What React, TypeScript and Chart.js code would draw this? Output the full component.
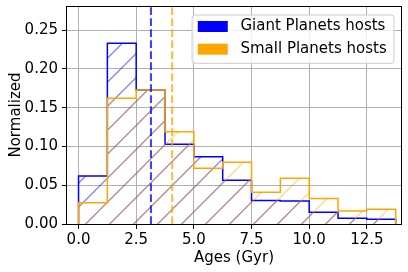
import React, { useEffect, useRef } from "react";
import { Chart, registerables } from "chart.js";

Chart.register(...registerables);

// ---- data ----
const binEdges = [0, 1.25, 2.5, 3.75, 5.0, 6.25, 7.5, 8.75, 10.0, 11.25, 12.5, 13.75];
const giantValues = [0.0619, 0.2329, 0.1727, 0.1027, 0.0867, 0.0565, 0.0302, 0.0298, 0.0153, 0.0074, 0.0061];
const smallValues = [0.0275, 0.162, 0.1727, 0.1189, 0.0718, 0.0795, 0.0408, 0.0589, 0.0329, 0.0166, 0.0191];
const giantMeanAge = 3.14;
const smallMeanAge = 4.06;
const seriesLabels = ["Giant Planets hosts", "Small Planets hosts"];
const xTicks = [0, 2.5, 5, 7.5, 10, 12.5];
const yTicks = [0, 0.05, 0.1, 0.15, 0.2, 0.25];
const xRange = [-0.5, 13.98];
const yRange = [0, 0.281];
const xTitle = "Ages (Gyr)";
const yTitle = "Normalized";

const FONT = "'DejaVu Sans', sans-serif";

function stepPoints(vals: number[]) {
  const pts = [{ x: binEdges[0], y: 0 }];
  vals.forEach((v, i) => pts.push({ x: binEdges[i], y: v }));
  pts.push({ x: binEdges[binEdges.length - 1], y: 0 });
  return pts;
}

function makeHatch(color: string): CanvasPattern | string {
  const c = document.createElement("canvas");
  c.width = 24;
  c.height = 24;
  const g = c.getContext("2d");
  if (!g) return "transparent";
  g.strokeStyle = color;
  g.lineWidth = 1.3;
  for (let k = -2; k <= 2; k++) {
    const cc = 21.7 + 24 * k;
    g.beginPath();
    g.moveTo(cc + 10, -10);
    g.lineTo(-10, cc + 10);
    g.stroke();
  }
  return g.createPattern(c, "repeat") || "transparent";
}

const frameLegendPlugin = {
  id: "frameLegend",
  afterDraw(chart: any) {
    const { ctx, chartArea: a } = chart;
    ctx.save();
    // frame (spines)
    ctx.strokeStyle = "#000";
    ctx.lineWidth = 1;
    ctx.strokeRect(a.left - 0.5, a.top + 0.5, a.right - a.left + 1, a.bottom - a.top);
    // legend
    ctx.font = "15px " + FONT;
    const textW = Math.max(...seriesLabels.map((t) => ctx.measureText(t).width));
    const padL = 5.7, handleW = 30, handleH = 11, gap = 12.7, padR = 7.3;
    const w = padL + handleW + gap + textW + padR;
    const h = 48.3;
    const right = a.right - 7;
    const left = right - w;
    const top = a.top + 9;
    const r = 3;
    ctx.beginPath();
    ctx.moveTo(left + r, top);
    ctx.lineTo(right - r, top);
    ctx.arcTo(right, top, right, top + r, r);
    ctx.lineTo(right, top + h - r);
    ctx.arcTo(right, top + h, right - r, top + h, r);
    ctx.lineTo(left + r, top + h);
    ctx.arcTo(left, top + h, left, top + h - r, r);
    ctx.lineTo(left, top + r);
    ctx.arcTo(left, top, left + r, top, r);
    ctx.closePath();
    ctx.fillStyle = "rgba(255,255,255,0.8)";
    ctx.fill();
    ctx.strokeStyle = "#cccccc";
    ctx.lineWidth = 1;
    ctx.stroke();
    const colors = ["#0000ff", "#ffa500"];
    const rows = [11.5, 34.2];
    seriesLabels.forEach((t, i) => {
      const cy = top + rows[i];
      ctx.fillStyle = colors[i];
      ctx.fillRect(left + padL, cy - handleH / 2, handleW, handleH);
      ctx.fillStyle = "#000";
      ctx.textAlign = "left";
      ctx.textBaseline = "middle";
      ctx.fillText(t, left + padL + handleW + gap, cy);
    });
    ctx.restore();
  },
};

export default function App() {
  const ref = useRef<HTMLCanvasElement>(null);
  useEffect(() => {
    document.body.style.margin = "0";
    const canvas = ref.current;
    if (!canvas) return;
    Chart.defaults.font.family = FONT;
    Chart.defaults.font.size = 15;
    const chart = new Chart(canvas, {
      type: "line",
      data: {
        datasets: [
          {
            label: "giantMean",
            data: [
              { x: giantMeanAge, y: yRange[0] },
              { x: giantMeanAge, y: yRange[1] },
            ],
            borderColor: "rgba(0,0,255,0.75)",
            borderWidth: 2.1,
            borderDash: [7.7, 3.3],
            pointRadius: 0,
            fill: false,
            order: 0,
          },
          {
            label: "smallMean",
            data: [
              { x: smallMeanAge, y: yRange[0] },
              { x: smallMeanAge, y: yRange[1] },
            ],
            borderColor: "rgba(255,165,0,0.75)",
            borderWidth: 2.1,
            borderDash: [7.7, 3.3],
            pointRadius: 0,
            fill: false,
            order: 0,
          },
          {
            label: seriesLabels[1],
            data: stepPoints(smallValues),
            stepped: true,
            borderColor: "#ffa500",
            borderWidth: 1.5,
            backgroundColor: makeHatch("rgba(255,165,0,0.45)") as any,
            fill: "origin",
            pointRadius: 0,
            order: 1,
          },
          {
            label: seriesLabels[0],
            data: stepPoints(giantValues),
            stepped: true,
            borderColor: "#0000ff",
            borderWidth: 1.5,
            backgroundColor: makeHatch("rgba(0,0,255,0.5)") as any,
            fill: "origin",
            pointRadius: 0,
            order: 2,
          },
        ],
      },
      options: {
        animation: false,
        responsive: false,
        devicePixelRatio: 1,
        events: [],
        layout: { padding: { top: 6, right: 7, left: 0, bottom: 0 } },
        plugins: { legend: { display: false }, tooltip: { enabled: false } },
        scales: {
          x: {
            type: "linear",
            min: xRange[0],
            max: xRange[1],
            afterBuildTicks: (s: any) => {
              s.ticks = xTicks.map((v) => ({ value: v }));
            },
            afterFit: (s: any) => {
              s.height = 48;
              s.paddingLeft = 0;
              s.paddingRight = 0;
            },
            ticks: {
              color: "#000",
              padding: 2,
              maxRotation: 0,
              autoSkip: false,
              font: { size: 15, family: FONT },
              callback: (v: any) => Number(v).toFixed(1),
            },
            grid: { color: "#b0b0b0", lineWidth: 1, tickColor: "#000", tickLength: 5 },
            border: { display: false },
            title: {
              display: true,
              text: xTitle,
              color: "#000",
              font: { size: 15, family: FONT },
              padding: { top: 0, bottom: 5 },
            },
          },
          y: {
            type: "linear",
            min: yRange[0],
            max: yRange[1],
            afterBuildTicks: (s: any) => {
              s.ticks = yTicks.map((v) => ({ value: v }));
            },
            afterFit: (s: any) => {
              s.width = 67;
              s.paddingTop = 0;
              s.paddingBottom = 0;
            },
            ticks: {
              color: "#000",
              padding: 4,
              autoSkip: false,
              font: { size: 15, family: FONT },
              callback: (v: any) => Number(v).toFixed(2),
            },
            grid: { color: "#b0b0b0", lineWidth: 1, tickColor: "#000", tickLength: 5 },
            border: { display: false },
            title: {
              display: true,
              text: yTitle,
              color: "#000",
              font: { size: 15, family: FONT },
              padding: { top: 7.5, bottom: 0 },
            },
          },
        },
      },
      plugins: [frameLegendPlugin],
    } as any);
    return () => chart.destroy();
  }, []);
  return (
    <div style={{ position: "absolute", left: 0, top: 0, width: 408, height: 272 }}>
      <canvas ref={ref} width={408} height={272} style={{ width: 408, height: 272, display: "block" }} />
    </div>
  );
}
